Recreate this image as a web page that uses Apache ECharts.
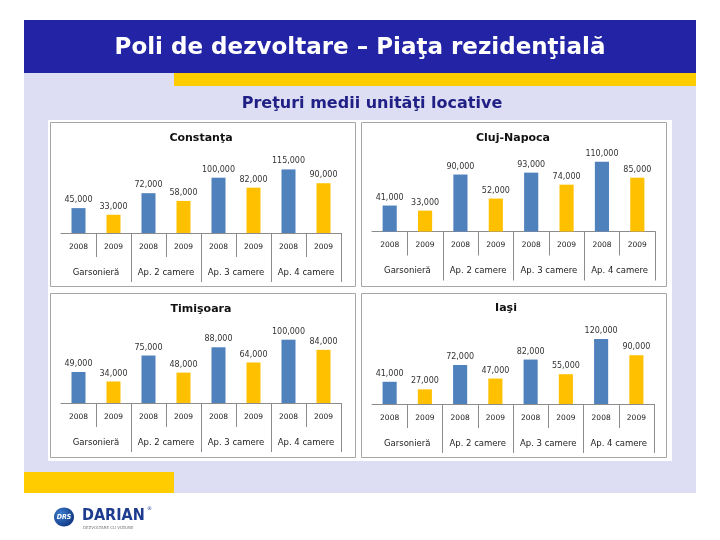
<!DOCTYPE html>
<html><head><meta charset="utf-8">
<script src="https://cdn.jsdelivr.net/npm/echarts@6/dist/echarts.min.js"></script>
<style>html,body{margin:0;padding:0;background:#fff}#c{width:720px;height:540px}</style>
</head><body><div id="c"></div>
<script>
// ---- data ----
const years = ['2008','2009','2008','2009','2008','2009','2008','2009'];
const groups = ['Garsonieră','Ap. 2 camere','Ap. 3 camere','Ap. 4 camere'];
const cities = ['Constanţa','Cluj-Napoca','Timişoara','Iaşi'];
const constanta2008 = [45000, 72000, 100000, 115000];
const constanta2009 = [33000, 58000, 82000, 90000];
const cluj2008 = [41000, 90000, 93000, 110000];
const cluj2009 = [33000, 52000, 74000, 85000];
const timisoara2008 = [49000, 75000, 88000, 100000];
const timisoara2009 = [34000, 48000, 64000, 84000];
const iasi2008 = [41000, 72000, 82000, 120000];
const iasi2009 = [27000, 47000, 55000, 90000];
const slideTitle = 'Poli de dezvoltare – Piaţa rezidenţială';
const slideSubtitle = 'Preţuri medii unităţi locative';

// ---- layout ----
const layout = [
  {left: 61, width: 280, base: 233, pxPerK: 0.553, max: 130000, tx: 201, ty: 138},
  {left: 372, width: 283, base: 231.5, pxPerK: 0.633, max: 120000, tx: 513, ty: 138},
  {left: 61, width: 280, base: 403, pxPerK: 0.633, max: 120000, tx: 201, ty: 309},
  {left: 372, width: 282, base: 404, pxPerK: 0.542, max: 140000, tx: 506, ty: 308}
];
const seriesData = [
  [constanta2008, constanta2009],
  [cluj2008, cluj2009],
  [timisoara2008, timisoara2009],
  [iasi2008, iasi2009]
];
const BLUE = '#4F81BD', GOLD = '#FFC000', AX = '#8C8C8C';
const FONT = '"DejaVu Sans", sans-serif';
const fmt = p => (p.value == null ? '' : String(p.value).replace(/\B(?=(\d{3})+(?!\d))/g, ','));

const grid = [], xAxis = [], yAxis = [], series = [];
layout.forEach((L, i) => {
  const h = L.max / 1000 * L.pxPerK;
  grid.push({left: L.left, width: L.width, top: L.base - h, height: h, containLabel: false});
  xAxis.push({
    type: 'category', gridIndex: i, data: years, position: 'bottom', boundaryGap: true,
    axisLine: {show: true, lineStyle: {color: AX, width: 1}},
    axisTick: {show: true, interval: (idx) => idx !== 0, length: 24, lineStyle: {color: AX}},
    axisLabel: {interval: 0, margin: 10, fontSize: 7.5, color: '#222', fontFamily: FONT}
  });
  xAxis.push({
    type: 'category', gridIndex: i, data: groups, position: 'bottom', boundaryGap: true,
    axisLine: {show: false},
    axisTick: {show: true, interval: (idx) => idx !== 0, length: 49, lineStyle: {color: AX}},
    axisLabel: {interval: 0, margin: 35, fontSize: 8.5, color: '#222', fontFamily: FONT}
  });
  yAxis.push({type: 'value', gridIndex: i, min: 0, max: L.max, show: false, splitLine: {show: false}});
  const [a, b] = seriesData[i];
  const s08 = [], s09 = [];
  a.forEach((v, k) => { s08.push(v, null); s09.push(null, b[k]); });
  const lab = {show: true, position: 'top', distance: 4, formatter: fmt, fontSize: 8, color: '#333', fontFamily: FONT};
  series.push({name: '2008', type: 'bar', xAxisIndex: 2 * i, yAxisIndex: i, data: s08, barWidth: '40%', barGap: '-100%',
    itemStyle: {color: BLUE}, label: lab});
  series.push({name: '2009', type: 'bar', xAxisIndex: 2 * i, yAxisIndex: i, data: s09, barWidth: '40%', barGap: '-100%',
    itemStyle: {color: GOLD}, label: lab});
});

const boxes = [[50.5, 122.5], [361.5, 122.5], [50.5, 293.5], [361.5, 293.5]];
const graphic = [
  {type: 'rect', z: -10, shape: {x: 24, y: 73, width: 672, height: 420}, style: {fill: '#DDDDF3'}},
  {type: 'rect', z: -9, shape: {x: 24, y: 20, width: 672, height: 53}, style: {fill: '#2323A6'}},
  {type: 'rect', z: -9, shape: {x: 174, y: 73, width: 522, height: 13}, style: {fill: '#FFCC00'}},
  {type: 'rect', z: -9, shape: {x: 24, y: 472, width: 150, height: 21}, style: {fill: '#FFCC00'}},
  {type: 'rect', z: -9, shape: {x: 48, y: 120, width: 624, height: 341}, style: {fill: '#FFFFFF'}},
  ...boxes.map(([x, y]) => ({type: 'rect', z: -8, shape: {x, y, width: 305, height: 164},
    style: {fill: null, stroke: '#A6A6A6', lineWidth: 1}})),
  {type: 'text', z: 10, x: 360, y: 48, style: {text: slideTitle, fill: '#FFFFFF', align: 'center', verticalAlign: 'middle',
    font: 'bold 23px "DejaVu Sans", sans-serif'}},
  {type: 'text', z: 10, x: 372, y: 104, style: {text: slideSubtitle, fill: '#1F1F85', align: 'center', verticalAlign: 'middle',
    font: 'bold 16px "DejaVu Sans", sans-serif'}},
  ...layout.map((L, i) => ({type: 'text', z: 10, x: L.tx, y: L.ty, style: {text: cities[i], fill: '#111', align: 'center',
    verticalAlign: 'middle', font: 'bold 11px "DejaVu Sans", sans-serif'}})),
  // logo
  {type: 'ellipse', z: 5, shape: {cx: 64, cy: 517, rx: 10, ry: 9.5},
    style: {fill: new echarts.graphic.RadialGradient(0.35, 0.35, 0.8, [{offset: 0, color: '#3A7FD0'}, {offset: 1, color: '#0D2F7A'}])}},
  {type: 'text', z: 6, x: 64, y: 517, style: {text: 'DRS', fill: '#fff', align: 'center', verticalAlign: 'middle',
    font: 'italic bold 7px "DejaVu Sans Condensed", sans-serif'}},
  {type: 'text', z: 6, x: 82, y: 516, style: {text: 'DARIAN', fill: '#1D3C8F', align: 'left', verticalAlign: 'middle',
    font: 'bold 16px "DejaVu Sans Condensed", "DejaVu Sans", sans-serif'}},
  {type: 'text', z: 6, x: 147, y: 509, style: {text: '®', fill: '#1D3C8F', align: 'left', verticalAlign: 'middle',
    font: '5px "DejaVu Sans", sans-serif'}},
  {type: 'text', z: 6, x: 83, y: 528, style: {text: 'DEZVOLTARE CU VIZIUNE', fill: '#777', align: 'left', verticalAlign: 'middle',
    font: '4px "DejaVu Sans", sans-serif'}}
];

const chart = echarts.init(document.getElementById('c'), null, {renderer: 'canvas'});
chart.setOption({
  backgroundColor: '#FFFFFF',
  animation: false,
  grid, xAxis, yAxis, series, graphic
});
</script></body></html>
